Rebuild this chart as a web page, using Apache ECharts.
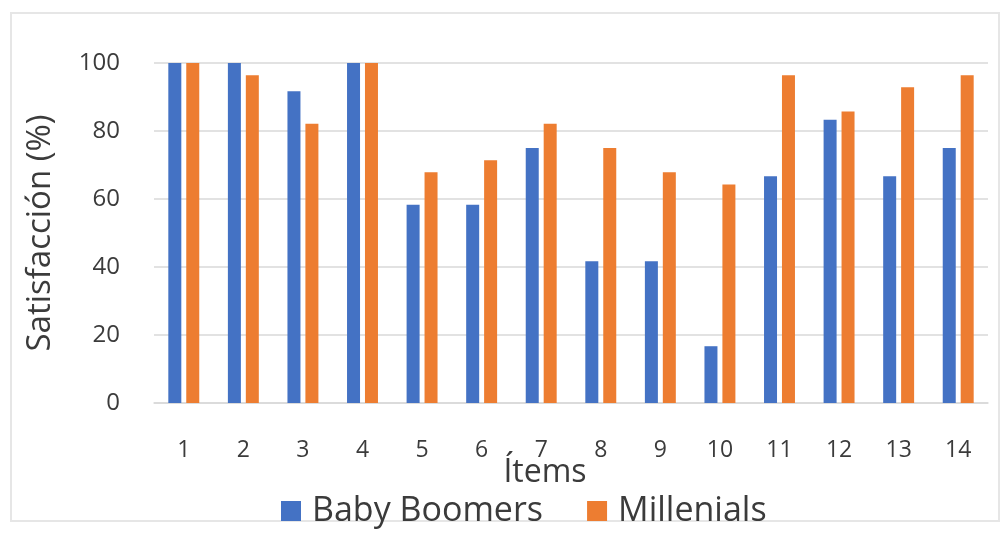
<!DOCTYPE html>
<html lang="es">

<head>
    <meta charset="UTF-8">
    <title>Satisfacción por ítems</title>
    <script src="https://cdn.jsdelivr.net/npm/echarts@6/dist/echarts.min.js"></script>
    <style>
        body {
            margin: 0;
            background: #fff;
        }

        #chart {
            width: 1006px;
            height: 535px;
        }
    </style>
</head>

<body>
    <div id="chart"></div>
    <script>
        // datos
        var items = ['1', '2', '3', '4', '5', '6', '7', '8', '9', '10', '11', '12', '13', '14'];
        var babyBoomers = [100, 100, 91.7, 100, 58.3, 58.3, 75, 41.7, 41.7, 16.7, 66.7, 83.3, 66.7, 75];
        var millenials = [100, 96.4, 82.1, 100, 67.9, 71.4, 82.1, 75, 67.9, 64.3, 96.4, 85.7, 92.9, 96.4];
        var yTicks = [0, 20, 40, 60, 80, 100];

        var font = '"Open Sans", Lato, sans-serif';
        var txt = '#3b3b3b';

        var myChart = echarts.init(document.getElementById('chart'));
        myChart.setOption({
            animation: false,
            color: ['#4472C4', '#ED7D31'],
            textStyle: { fontFamily: font },
            grid: { left: 154, right: 18, top: 63, bottom: 132 },
            graphic: [
                {
                    type: 'rect',
                    shape: { x: 11, y: 13, width: 988, height: 508 },
                    style: { fill: 'none', stroke: '#e6e6e6', lineWidth: 2 }
                },
                {
                    type: 'text',
                    x: 545,
                    y: 473,
                    style: {
                        text: 'Ítems',
                        font: '32px ' + font,
                        fill: txt,
                        align: 'center',
                        verticalAlign: 'middle'
                    }
                }
            ],
            legend: {
                data: ['Baby Boomers', 'Millenials'],
                top: 489,
                left: 276,
                itemWidth: 20,
                itemHeight: 20,
                itemGap: 44,
                icon: 'rect',
                textStyle: { fontSize: 34, color: txt, fontFamily: font, padding: [0, 0, 0, 6] }
            },
            xAxis: {
                type: 'category',
                data: items,
                axisTick: { show: false },
                axisLine: { lineStyle: { color: '#d9d9d9', width: 1.5 } },
                axisLabel: { fontSize: 23, color: txt, margin: 36 }
            },
            yAxis: {
                type: 'value',
                min: yTicks[0],
                max: yTicks[yTicks.length - 1],
                interval: 20,
                name: 'Satisfacción (%)',
                nameLocation: 'middle',
                nameGap: 97,
                nameTextStyle: { fontSize: 33, color: txt },
                axisLabel: { fontSize: 24, color: txt, margin: 34 },
                splitLine: { lineStyle: { color: '#d9d9d9', width: 1.5 } }
            },
            series: [
                {
                    name: 'Baby Boomers',
                    type: 'bar',
                    data: babyBoomers,
                    barWidth: 13,
                    barGap: '38%'
                },
                {
                    name: 'Millenials',
                    type: 'bar',
                    data: millenials,
                    barWidth: 13,
                    barGap: '38%'
                }
            ]
        });
    </script>
</body>

</html>
